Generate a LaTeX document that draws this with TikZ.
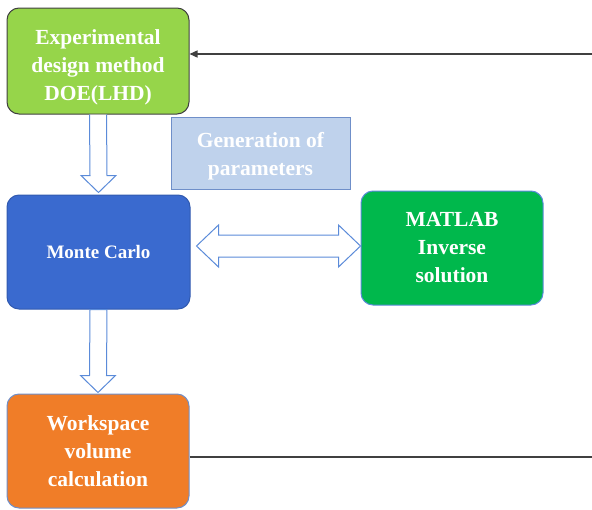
\documentclass[tikz,border=0pt]{standalone}
\usepackage{fontspec}
\setmainfont{Liberation Serif}
\usetikzlibrary{arrows.meta,calc}
\definecolor{doegreen}{HTML}{96D54A}
\definecolor{mcblue}{HTML}{3A6ACF}
\definecolor{mlgreen}{HTML}{00B84C}
\definecolor{wsorange}{HTML}{F07D28}
\definecolor{genfill}{HTML}{BFD2EC}
\definecolor{genline}{HTML}{6F8FC9}
\definecolor{arrline}{HTML}{5B8BD9}
\definecolor{lineg}{HTML}{404040}
\tikzset{
  box/.style={rectangle, rounded corners=12pt, minimum width=182pt, minimum height=114pt,
    align=center, text=white, font=\bfseries\fontsize{21.5}{28}\selectfont, line width=1pt, inner sep=0pt},
  blockarrow/.style={draw=arrline, fill=white, line width=1pt, line join=miter},
  conn/.style={draw=lineg, line width=1.4pt}
}
\begin{document}
\begin{tikzpicture}[x=1pt,y=-1pt]
\useasboundingbox (0,0) rectangle (592,509);
\node[box, fill=doegreen, draw=black!75, minimum height=106pt] (doe) at (98,61) {};
\node[align=center, text=white, font=\bfseries\fontsize{21.5}{28}\selectfont] (doet) at ($(doe.center)+(0,6)$) {Experimental\\design method\\DOE(LHD)};
\node[rectangle, fill=genfill, draw=genline, line width=1pt, minimum width=179pt, minimum height=72pt] (gen) at (260.5,153) {};
\node[align=center, text=white, font=\bfseries\fontsize{21.5}{28}\selectfont] (gent) at ($(gen.center)+(0,3)$) {Generation of\\parameters};
\node[box, fill=mcblue, draw=mcblue!85!black, minimum width=183pt, font=\bfseries\fontsize{19}{26}\selectfont] (mc) at (98.5,252) {Monte Carlo};
\node[box, fill=mlgreen, draw=arrline] (ml) at (452,248) {MATLAB\\Inverse\\solution};
\node[box, fill=wsorange, draw=genline] (ws) at (98,451) {Workspace\\volume\\calculation};
% down arrow 1
\draw[blockarrow] ($(doe.south)+(-8.5,0)$) -- ($(mc.north)+(-8.5,-19)$) -- ($(mc.north)+(-17.5,-19)$)
  -- ($(mc.north)+(0,-2)$) -- ($(mc.north)+(17.5,-19)$) -- ($(mc.north)+(8.5,-19)$) -- ($(doe.south)+(8.5,0)$);
% down arrow 2
\draw[blockarrow] ($(mc.south)+(-8.5,0)$) -- ($(ws.north)+(-8.5,-18)$) -- ($(ws.north)+(-17.5,-18)$)
  -- ($(ws.north)+(0,-1)$) -- ($(ws.north)+(17.5,-18)$) -- ($(ws.north)+(8.5,-18)$) -- ($(mc.south)+(8.5,0)$) -- cycle;
% double arrow
\coordinate (dl) at ($(mc.east)+(6,-6)$);
\coordinate (dr) at ($(ml.west)+(0,-2)$);
\draw[blockarrow] (dl) -- ($(dl)+(22,-21)$) -- ($(dl)+(22,-11)$) -- ($(dr)+(-22,-11)$) -- ($(dr)+(-22,-21)$)
  -- (dr) -- ($(dr)+(-22,21)$) -- ($(dr)+(-22,11)$) -- ($(dl)+(22,11)$) -- ($(dl)+(22,21)$) -- cycle;
% feedback lines
\coordinate (tr) at (592,54);
\coordinate (br) at (592,457);
\draw[conn, -{Triangle[length=8pt,width=7pt]}] (tr) -- (tr -| doe.east);
\draw[conn] (ws.east |- br) -- (br);
\end{tikzpicture}
\end{document}
